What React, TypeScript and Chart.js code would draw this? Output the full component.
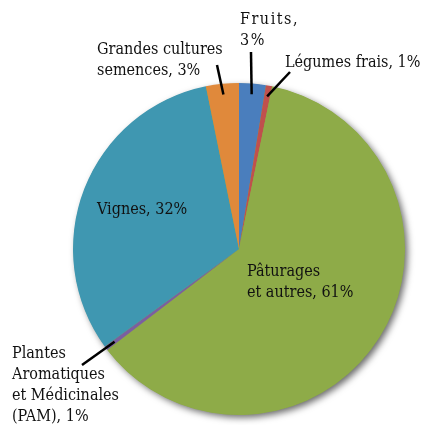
import React, { useEffect, useRef } from "react";
import { Chart, registerables } from "chart.js";

Chart.register(...registerables);

const categories = [
  "Fruits",
  "Légumes frais",
  "Pâturages et autres",
  "Plantes Aromatiques et Médicinales (PAM)",
  "Vignes",
  "Grandes cultures semences",
];
const shares = [2.6, 0.6, 61.4, 0.4, 31.8, 3.2];
const labelLines = [
  ["Fruits,", "3%"],
  ["Légumes frais, 1%"],
  ["Pâturages", "et autres, 61%"],
  ["Plantes", "Aromatiques", "et Médicinales", "(PAM), 1%"],
  ["Vignes, 32%"],
  ["Grandes cultures", "semences, 3%"],
];
const colors = ["#4a7ebd", "#c0504d", "#8eab48", "#7b5fa0", "#3f97b1", "#e0893b"];

// label placement (layout only)
const labelPos = [
  { x: 240, y: 20, lh: 21, spacing: "1.5px" },
  { x: 285, y: 63, lh: 21 },
  { x: 247, y: 272, lh: 21 },
  { x: 12, y: 354, lh: 21 },
  { x: 97, y: 210, lh: 21 },
  { x: 97, y: 50, lh: 21 },
];
const leaderStart: (null | { x: number; y: number })[] = [
  { x: 251, y: 52 },
  { x: 290, y: 72 },
  null,
  { x: 82, y: 365 },
  null,
  { x: 217, y: 65 },
];

const shadowPlugin = {
  id: "pieShadow",
  beforeDatasetsDraw(chart: any) {
    const arc = chart.getDatasetMeta(0).data[0];
    if (!arc) return;
    const ctx = chart.ctx;
    ctx.save();
    ctx.shadowColor = "rgba(0,0,0,0.6)";
    ctx.shadowBlur = 7;
    ctx.shadowOffsetX = 3;
    ctx.shadowOffsetY = 3;
    ctx.fillStyle = "#8eab48";
    ctx.beginPath();
    ctx.arc(arc.x, arc.y, arc.outerRadius - 0.5, 0, Math.PI * 2);
    ctx.fill();
    ctx.restore();
  },
};

const labelPlugin = {
  id: "pieLabels",
  afterDatasetsDraw(chart: any) {
    const ctx = chart.ctx;
    const arcs = chart.getDatasetMeta(0).data;
    ctx.save();
    ctx.fillStyle = "#111";
    ctx.font = "16px 'DejaVu Serif Condensed', 'DejaVu Serif', serif";
    ctx.textBaseline = "middle";
    ctx.textAlign = "left";
    labelLines.forEach((lines, i) => {
      const p = labelPos[i];
      (ctx as any).letterSpacing = p.spacing || "0px";
      lines.forEach((t, j) => ctx.fillText(t, p.x, p.y + j * p.lh));
    });
    (ctx as any).letterSpacing = "0px";
    ctx.strokeStyle = "#000";
    ctx.lineWidth = 2.5;
    leaderStart.forEach((s, i) => {
      if (!s) return;
      const a = arcs[i];
      const mid = (a.startAngle + a.endAngle) / 2;
      const r = a.outerRadius * 0.935;
      const ex = a.x + Math.cos(mid) * r;
      const ey = a.y + Math.sin(mid) * r;
      ctx.beginPath();
      ctx.moveTo(s.x, s.y);
      ctx.lineTo(ex, ey);
      ctx.stroke();
    });
    ctx.restore();
  },
};

export default function App() {
  const ref = useRef<HTMLCanvasElement | null>(null);
  useEffect(() => {
    if (!ref.current) return;
    const chart = new Chart(ref.current, {
      type: "pie",
      data: {
        labels: categories,
        datasets: [
          {
            data: shares,
            backgroundColor: colors,
            borderWidth: 0,
          },
        ],
      },
      options: {
        responsive: false,
        animation: false,
        layout: { padding: { left: 73, right: 17, top: 83, bottom: 10 } },
        plugins: {
          legend: { display: false },
          tooltip: { enabled: false },
        },
      },
      plugins: [shadowPlugin, labelPlugin],
    });
    return () => chart.destroy();
  }, []);
  return (
    <div style={{ position: "fixed", left: 0, top: 0, width: 422, height: 425, background: "#fff" }}>
      <canvas ref={ref} width={422} height={425} />
    </div>
  );
}
